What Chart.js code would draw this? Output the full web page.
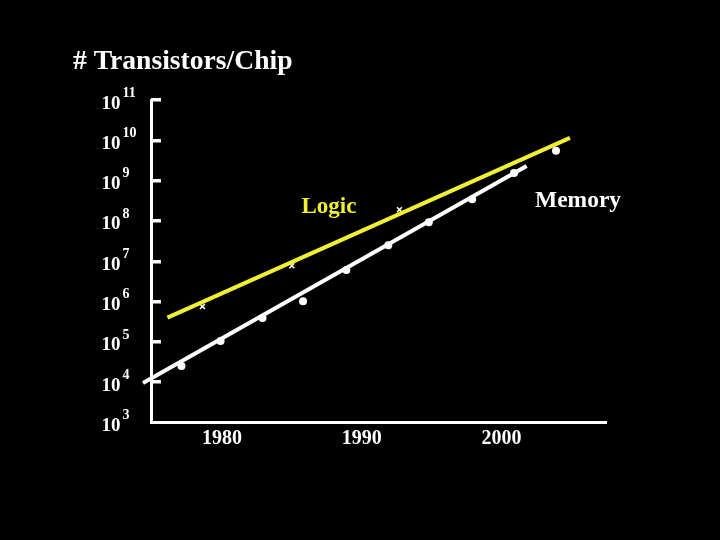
<!DOCTYPE html>
<html>
<head>
<meta charset="utf-8">
<style>
html,body{margin:0;padding:0;background:#000;}
#wrap{width:720px;height:540px;background:#000;}
</style>
<script src="https://cdn.jsdelivr.net/npm/chart.js@4/dist/chart.umd.min.js"></script>
</head>
<body>
<div id="wrap"><canvas id="c" width="720" height="540"></canvas></div>
<script>
// ---- data ----
const titleText = '# Transistors/Chip';
const yearTicks = [1980, 1990, 2000];
const yExponents = [3, 4, 5, 6, 7, 8, 9, 10, 11];      // 10^n tick labels
const memoryYears = [1977.1, 1979.9, 1982.9, 1985.8, 1988.9, 1991.9, 1994.8, 1997.9, 2000.9, 2003.9];
const memoryLog   = [4.40, 5.02, 5.59, 6.01, 6.78, 7.40, 7.97, 8.54, 9.19, 9.74];
const logicYears  = [1978.6, 1985.0, 1992.7];
const logicLog    = [5.88, 6.89, 8.28];
const logicTrendYears  = [1976.1, 2004.9];
const logicTrendLog    = [5.60, 10.06];
const memoryTrendYears = [1974.35, 2001.8];
const memoryTrendLog   = [3.98, 9.36];
const seriesNames = ['Logic', 'Memory'];

const YELLOW = '#f0f032';
const WHITE = '#ffffff';
const SERIF = '"Liberation Serif", "Times New Roman", serif';

function pts(xs, ys) { return xs.map((x, i) => ({ x: x, y: ys[i] })); }

const decor = {
  id: 'decor',
  beforeDraw(chart) {
    const ctx = chart.ctx;
    ctx.save();
    ctx.fillStyle = '#000';
    ctx.fillRect(0, 0, chart.width, chart.height);
    ctx.restore();
  },
  afterDraw(chart) {
    const ctx = chart.ctx;
    const xs = chart.scales.x, ys = chart.scales.y;
    const left = chart.chartArea.left;
    ctx.save();
    // inward tick marks on y axis
    ctx.fillStyle = WHITE;
    yExponents.forEach(e => {
      if (e === yExponents[0]) return;
      const y = ys.getPixelForValue(e);
      ctx.fillRect(left, Math.round(y - 1.75), 10, 3.5);
    });
    // y tick labels 10^n
    ctx.textBaseline = 'alphabetic';
    ctx.textAlign = 'left';
    yExponents.forEach(e => {
      const y = ys.getPixelForValue(e);
      ctx.fillStyle = WHITE;
      ctx.font = 'bold 19px ' + SERIF;
      ctx.fillText('10', 101.5, y + 8.5);
      ctx.font = 'bold 14px ' + SERIF;
      ctx.fillText(String(e), 122.5, y - 3.3);
    });
    // x tick labels
    ctx.textAlign = 'center';
    ctx.font = 'bold 20px ' + SERIF;
    yearTicks.forEach(yr => {
      ctx.fillText(String(yr), xs.getPixelForValue(yr), 444);
    });
    // title
    ctx.textAlign = 'left';
    ctx.font = 'bold 27.6px ' + SERIF;
    ctx.fillText(titleText, 73, 68.5);
    // series labels
    ctx.font = 'bold 23px ' + SERIF;
    ctx.fillStyle = YELLOW;
    ctx.fillText(seriesNames[0], 301.5, 212.5);
    ctx.font = 'bold 23.5px ' + SERIF;
    ctx.fillStyle = WHITE;
    ctx.fillText(seriesNames[1], 535, 206.7);
    ctx.restore();
  }
};

new Chart(document.getElementById('c'), {
  type: 'scatter',
  data: {
    datasets: [
      { label: 'Logic trend', data: pts(logicTrendYears, logicTrendLog), showLine: true,
        borderColor: YELLOW, borderWidth: 4, pointRadius: 0, clip: false },
      { label: 'Logic', data: pts(logicYears, logicLog), showLine: false,
        pointStyle: 'crossRot', pointRadius: 3.5, borderColor: WHITE, borderWidth: 1.5,
        backgroundColor: WHITE, clip: false },
      { label: 'Memory trend', data: pts(memoryTrendYears, memoryTrendLog), showLine: true,
        borderColor: WHITE, borderWidth: 4, pointRadius: 0, clip: false },
      { label: 'Memory', data: pts(memoryYears, memoryLog), showLine: false,
        pointStyle: 'circle', pointRadius: 4, borderWidth: 0,
        backgroundColor: WHITE, borderColor: WHITE, clip: false }
    ]
  },
  options: {
    responsive: false,
    animation: false,
    devicePixelRatio: 1,
    layout: { padding: { left: 151, top: 100, right: 114, bottom: 117.5 } },
    plugins: { legend: { display: false }, tooltip: { enabled: false }, title: { display: false } },
    scales: {
      x: {
        type: 'linear', min: 1974.92, max: 2007.48,
        grid: { display: false, drawTicks: false },
        ticks: { display: false },
        border: { display: true, color: WHITE, width: 3 }
      },
      y: {
        type: 'linear', min: 3, max: 11,
        grid: { display: false, drawTicks: false },
        ticks: { display: false },
        border: { display: true, color: WHITE, width: 3 }
      }
    }
  },
  plugins: [decor]
});
</script>
</body>
</html>
